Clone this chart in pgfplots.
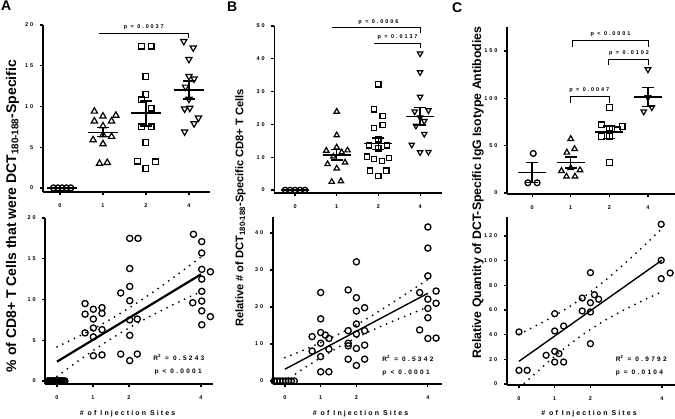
\documentclass[border=0pt]{standalone}
\usepackage{fontspec}
\setmainfont{Liberation Sans}
\newfontfamily\lsp[LetterSpace=35]{Liberation Sans}
\newfontfamily\lsx[LetterSpace=30]{Liberation Sans}
\usepackage{pgfplots}
\pgfplotsset{compat=1.18}
\newcommand{\tickfont}{\lsp\bfseries\fontsize{5.5}{6}\selectfont}
\newcommand{\rfont}{\lsp\bfseries\fontsize{6.5}{7}\selectfont}
\pgfplotsset{
  gp/.style={scale only axis, anchor=south west, axis lines=left,
    axis line style={line width=1.4pt,-}, tick align=outside, major tick length=3pt,
    tick style={line width=1.2pt,black}, clip=false,
    ticklabel style={font=\tickfont},
    yticklabel style={xshift=-3pt}, xticklabel style={yshift=-5pt}},
  mc/.style={only marks, mark=o, mark options={line width=1.3pt}},
  mt/.style={only marks, mark=triangle, mark options={line width=1.2pt}},
  md/.style={only marks, mark=triangle, mark options={rotate=180,line width=1.2pt}},
  ms/.style={only marks, mark=square, mark options={line width=1.2pt}},
  mean/.style={only marks, mark=-, mark size=#1, mark options={line width=1.5pt}},
  sem/.style={line width=1.5pt},
  band/.style={line width=2pt, line cap=round, dash pattern=on 0pt off 6.5pt, smooth},
}
\begin{document}
\begin{tikzpicture}
\useasboundingbox (0,0) rectangle (675pt,419pt);

% ---------------- A top
\begin{axis}[gp, at={(42.8pt,227pt)}, width=167.2pt, height=167pt,
  xmin=-0.4, xmax=3.49, ymin=-0.5, ymax=20,
  xtick={0,1,2,3}, xticklabels={0,1,2,4}, ytick={0,5,10,15,20}, yticklabels={0,5,10,15,20}]
\addplot[mc, mark size=3pt] coordinates {(-0.15,0) (-0.05,0) (0.05,0) (0.15,0) (0.25,0)};
\addplot[mt, mark size=3.6pt] coordinates {(0.8,9.4) (1.0,8.8) (1.3,8.9) (0.8,8.2) (1.2,8.2) (1.0,7.6) (1.0,6.5) (1.2,6.3) (0.77,5.9) (1.0,5.4) (0.92,3.0) (1.1,3.1)};
\addplot[ms, mark size=2.9pt] coordinates {(1.9,17.4) (2.12,17.4) (2.0,13.7) (2.0,11.5) (1.9,10.8) (2.12,9.8) (1.9,7.5) (2.12,7.5) (2.0,5.6) (1.8,3.3) (2.22,3.2) (2.0,2.4)};
\addplot[md, mark size=3.6pt] coordinates {(2.88,18.0) (3.1,17.2) (3.0,15.8) (3.0,13.7) (3.12,13.4) (2.92,12.4) (3.0,10.9) (2.9,9.7) (3.02,9.8) (3.22,8.6) (3.12,7.9) (2.9,6.9)};
\addplot[mean=15pt] coordinates {(0.05,0) (1,6.8) (2,9.2) (3,12.0)};
\addplot[mean=6pt] coordinates {(1,6.3) (1,7.4) (2,7.6) (2,10.7) (3,10.9) (3,13.1)};
\addplot[sem] coordinates {(1,6.3) (1,7.4)};
\addplot[sem] coordinates {(2,7.6) (2,10.7)};
\addplot[sem] coordinates {(3,10.9) (3,13.1)};
\draw[line width=1pt] (axis cs:0.9,19.0) -- (axis cs:3.0,19.0) -- (axis cs:3.0,18.4);
\node[font=\tickfont] at (axis cs:1.95,19.75) {p = 0.0037};
\end{axis}

% ---------------- A bottom
\begin{axis}[gp, at={(45.1pt,35pt)}, width=167.8pt, height=166pt,
  xmin=-0.33, xmax=4.33, ymin=-0.37, ymax=20,
  xtick={0,1,2,4}, xticklabels={0,1,2,4}, ytick={0,5,10,15,20}, yticklabels={0,5,10,15,20}]
\addplot[mc, mark size=3.1pt] coordinates {(-0.26,0) (-0.22,0) (-0.19,0) (-0.16,0) (-0.13,0) (-0.1,0) (-0.07,0) (-0.04,0) (-0.01,0) (0.02,0) (0.05,0) (0.08,0) (0.11,0) (0.14,0) (0.18,0) (0.22,0)};
\addplot[mc, mark size=3.1pt] coordinates {(0.78,9.5) (0.78,8.2) (1.01,8.8) (1.25,9.0) (1.01,7.6) (1.25,8.3) (1.01,6.5) (1.25,6.3) (0.78,5.9) (1.01,5.4) (1.01,3.1) (1.25,3.2)};
\addplot[mc, mark size=3.1pt] coordinates {(2.02,17.5) (2.25,17.5) (2.02,13.8) (2.02,11.6) (1.77,10.8) (2.02,9.85) (2.02,7.5) (2.23,7.6) (2.02,5.6) (1.77,3.3) (2.23,3.3) (2.02,2.5)};
\addplot[mc, mark size=3.1pt] coordinates {(3.79,18.0) (4.02,17.1) (4.02,15.7) (4.02,13.7) (4.26,13.4) (4.02,12.5) (4.02,11.0) (3.77,9.6) (4.02,9.8) (4.02,8.6) (4.26,7.9) (4.02,6.9)};
\addplot[line width=2.2pt] coordinates {(0,2.37) (4,13.09)};
\addplot[band] coordinates {(0,4.18) (0.5,5.25) (1,6.38) (1.5,7.61) (2,8.95) (2.5,10.40) (3,11.95) (3.5,13.56) (4,15.21)};
\addplot[band] coordinates {(0,0.56) (0.5,2.17) (1,3.72) (1.5,5.17) (2,6.51) (2.5,7.74) (3,8.87) (3.5,9.94) (4,10.97)};
\node[font=\rfont, anchor=west] at (axis cs:2.58,2.9) {R\textsuperscript{2} = 0.5243};
\node[font=\rfont, anchor=west] at (axis cs:2.61,1.1) {p < 0.0001};
\end{axis}

% ---------------- B top
\begin{axis}[gp, at={(274.2pt,226pt)}, width=168pt, height=167pt,
  xmin=-0.5, xmax=3.53, ymin=-0.91, ymax=50,
  xtick={0,1,2,3}, xticklabels={0,1,2,4}, ytick={0,10,20,30,40,50}, yticklabels={0,10,20,30,40,50}]
\addplot[mc, mark size=2.7pt] coordinates {(-0.24,0) (-0.12,0) (0,0) (0.12,0) (0.24,0)};
\addplot[mt, mark size=3.1pt] coordinates {(1.0,23.9) (1.0,16.7) (1.0,13.0) (1.26,12.1) (0.75,12.0) (1.12,11.5) (0.92,10.2) (1.2,8.4) (0.78,7.9) (1.0,6.6) (0.88,2.5) (1.1,2.7)};
\addplot[ms, mark size=2.6pt] coordinates {(2.0,32.2) (1.9,24.6) (2.1,22.5) (2.1,19.8) (1.9,18.9) (2.0,15.4) (1.77,13.6) (2.21,13.6) (2.0,12.7) (1.73,10.2) (1.9,9.5) (2.25,9.7) (2.09,8.8) (1.8,5.9) (2.19,5.9) (2.0,4.2)};
\addplot[md, mark size=3.1pt] coordinates {(3.0,41.6) (3.0,35.9) (3.0,28.4) (2.87,23.9) (3.2,24.3) (3.0,22.1) (3.1,21.0) (2.9,19.6) (3.1,17.1) (2.8,13.8) (3.0,11.5) (3.2,11.6)};
\addplot[mean=14pt] coordinates {(0,0) (1,10.7) (2,14.2) (3,22.4)};
\addplot[mean=6pt] coordinates {(1,9.1) (1,12.4) (2,12.4) (2,15.9) (3,19.8) (3,25.1)};
\addplot[sem] coordinates {(1,9.1) (1,12.4)};
\addplot[sem] coordinates {(2,12.4) (2,15.9)};
\addplot[sem] coordinates {(3,19.8) (3,25.1)};
\draw[line width=1pt] (axis cs:0.88,49.4) -- (axis cs:3.0,49.4) -- (axis cs:3.0,47.9);
\node[font=\tickfont] at (axis cs:2.0,51.2) {p = 0.0006};
\draw[line width=1pt] (axis cs:1.9,44.8) -- (axis cs:3.0,44.8) -- (axis cs:3.0,43.3);
\node[font=\tickfont] at (axis cs:2.46,46.7) {p = 0.0137};
\end{axis}

% ---------------- B bottom
\begin{axis}[gp, at={(272.8pt,35pt)}, width=169pt, height=167pt,
  xmin=-0.34, xmax=4.39, ymin=-0.8, ymax=44.3,
  xtick={0,1,2,4}, xticklabels={0,1,2,4}, ytick={0,10,20,30,40}, yticklabels={0,10,20,30,40}]
\addplot[mc, mark size=3.1pt] coordinates {(-0.3,0) (-0.22,0) (-0.14,0) (-0.06,0) (0.02,0) (0.1,0) (0.18,0) (0.26,0)};
\addplot[mc, mark size=3.1pt] coordinates {(1.0,23.9) (1.0,16.8) (1.0,13.1) (1.13,12.4) (0.76,12.0) (1.23,11.5) (1.0,10.2) (0.76,8.1) (1.23,8.6) (1.0,6.6) (1.0,2.5) (1.23,2.5)};
\addplot[mc, mark size=3.1pt] coordinates {(2.0,32.2) (1.77,24.6) (2.0,22.5) (2.23,19.8) (2.0,18.9) (2.0,15.4) (1.77,13.6) (2.23,13.6) (2.0,12.7) (1.77,10.2) (1.77,9.5) (2.23,9.7) (2.0,8.8) (1.77,5.9) (2.23,5.9) (2.0,4.2)};
\addplot[mc, mark size=3.1pt] coordinates {(4.0,41.6) (4.0,35.9) (4.0,28.4) (3.77,23.9) (4.23,24.3) (4.0,22.1) (4.23,21.0) (4.0,19.6) (4.0,17.1) (3.77,13.8) (4.0,11.5) (4.23,11.6)};
\addplot[line width=1.4pt] coordinates {(0,3.2) (4,23.7)};
\addplot[band] coordinates {(0,6.30) (0.5,8.28) (1,10.36) (1.5,12.63) (2,15.19) (2.5,18.04) (3,21.10) (3.5,24.24) (4,27.45)};
\addplot[band] coordinates {(0.3,1.9) (0.5,3.24) (1,6.30) (1.5,9.15) (2,11.71) (2.5,13.98) (3,16.06) (3.5,18.04) (4,19.95)};
\node[font=\rfont, anchor=west] at (axis cs:2.63,6.1) {R\textsuperscript{2} = 0.5342};
\node[font=\rfont, anchor=west] at (axis cs:2.63,2.2) {p < 0.0001};
\end{axis}

% ---------------- C top
\begin{axis}[gp, at={(507pt,225pt)}, width=168pt, height=166.7pt,
  xmin=-0.65, xmax=3.7, ymin=-1, ymax=175,
  xtick={0,1,2,3}, xticklabels={0,1,2,4}, ytick={0,50,100,150}, yticklabels={0,50,100,150}]
\addplot[mc, mark size=2.9pt] coordinates {(0.03,41.8) (-0.11,10.8) (0.13,10.8)};
\addplot[mt, mark size=3.2pt] coordinates {(1.0,57.2) (1.1,46.6) (0.9,42.8) (1.0,26.4) (0.76,23.4) (1.24,24.2) (0.89,17.5) (1.11,17.5)};
\addplot[ms, mark size=2.9pt] coordinates {(2.0,90.3) (1.79,72.0) (2.0,68.5) (2.21,66.7) (2.33,70.0) (1.79,59.5) (2.0,59.5) (2.0,32.5)};
\addplot[md, mark size=3.2pt] coordinates {(3.0,130.5) (3.0,101.0) (2.89,86.0) (3.1,90.5)};
\addplot[mean=14pt] coordinates {(0,21.5) (1,32.0) (2,64.5) (3,101.2)};
\addplot[mean=6pt] coordinates {(0,11.0) (0,32.0) (1,26.7) (1,38.3) (2,57.5) (2,71.0) (3,91.3) (3,111.3)};
\addplot[sem] coordinates {(0,11.0) (0,32.0)};
\addplot[sem] coordinates {(1,26.7) (1,38.3)};
\addplot[sem] coordinates {(2,57.5) (2,71.0)};
\addplot[sem] coordinates {(3,91.3) (3,111.3)};
\draw[line width=1pt] (axis cs:1.05,154.5) -- (axis cs:1.05,160.9) -- (axis cs:3.02,160.9) -- (axis cs:3.02,154.5);
\node[font=\tickfont] at (axis cs:2.03,167.5) {p < 0.0001};
\draw[line width=1pt] (axis cs:1.99,135) -- (axis cs:1.99,141.5) -- (axis cs:3.02,141.5) -- (axis cs:3.02,135);
\node[font=\tickfont] at (axis cs:2.51,147.5) {p = 0.0102};
\draw[line width=1pt] (axis cs:1.0,95.5) -- (axis cs:1.0,101.9) -- (axis cs:2.0,101.9) -- (axis cs:2.0,95.5);
\node[font=\tickfont] at (axis cs:1.48,109) {p = 0.0047};
\end{axis}

% ---------------- C bottom
\begin{axis}[gp, at={(506.8pt,34pt)}, width=168pt, height=167.5pt,
  xmin=-0.34, xmax=4.36, ymin=-0.8, ymax=135,
  xtick={0,1,2,4}, xticklabels={0,1,2,4}, ytick={0,20,40,60,80,100,120}, yticklabels={0,20,40,60,80,100,120}]
\addplot[mc, mark size=3pt] coordinates {(0.0,42.2) (0.0,11.1) (0.23,11.1)};
\addplot[mc, mark size=3pt] coordinates {(1.0,57.0) (1.25,47.0) (1.0,43.0) (1.0,26.5) (0.76,23.3) (1.12,24.6) (1.0,17.8) (1.25,17.8)};
\addplot[mc, mark size=3pt] coordinates {(2.0,90.3) (1.77,69.7) (2.11,72.4) (2.23,68.7) (2.0,65.9) (1.77,59.2) (2.0,58.4) (2.0,32.7)};
\addplot[mc, mark size=3pt] coordinates {(3.98,129.5) (3.98,100.3) (3.98,85.4) (4.23,90.0)};
\addplot[line width=1.4pt] coordinates {(0,18.4) (4,100.4)};
\addplot[band] coordinates {(0,40.4) (0.5,47.55) (1,55.4) (1.5,64.35) (2,74.6) (2.5,86.15) (3,98.8) (3.5,112.15) (4,126.0)};
\addplot[band] coordinates {(0.15,0.5) (0.5,9.75) (1,22.4) (1.5,33.95) (2,44.2) (2.5,53.15) (3,61.0) (3.5,68.15) (4,74.8)};
\node[font=\rfont, anchor=west] at (axis cs:2.61,20.8) {R\textsuperscript{2} = 0.9792};
\node[font=\rfont, anchor=west] at (axis cs:2.61,9.2) {p = 0.0104};
\end{axis}

% ---------------- labels
\node[rotate=90, font=\bfseries\fontsize{14}{16}\selectfont] at (12.5pt,203pt) {\% of CD8+ T Cells that were DCT\textsubscript{180-188}-Specific};
\node[rotate=90, font=\bfseries\fontsize{11.1}{13}\selectfont] at (240.5pt,211pt) {Relative \# of DCT\textsubscript{180-188}-Specific CD8+ T Cells};
\node[rotate=90, font=\bfseries\fontsize{12.3}{14}\selectfont] at (478pt,226.5pt) {Relative Quantity of DCT-Specific IgG Isotype Antibodies};
\node[font=\lsx\bfseries\fontsize{7}{8}\selectfont] at (127.5pt,5pt) {\# of Injection Sites};
\node[font=\lsx\bfseries\fontsize{7}{8}\selectfont] at (360.5pt,5pt) {\# of Injection Sites};
\node[font=\lsx\bfseries\fontsize{7}{8}\selectfont] at (589pt,5pt) {\# of Injection Sites};
\node[anchor=north west, inner sep=0pt, font=\bfseries\fontsize{14}{16}\selectfont] at (1pt,418pt) {A};
\node[anchor=north west, inner sep=0pt, font=\bfseries\fontsize{14}{16}\selectfont] at (227pt,417pt) {B};
\node[anchor=north west, inner sep=0pt, font=\bfseries\fontsize{14}{16}\selectfont] at (452pt,416pt) {C};
\end{tikzpicture}
\end{document}
